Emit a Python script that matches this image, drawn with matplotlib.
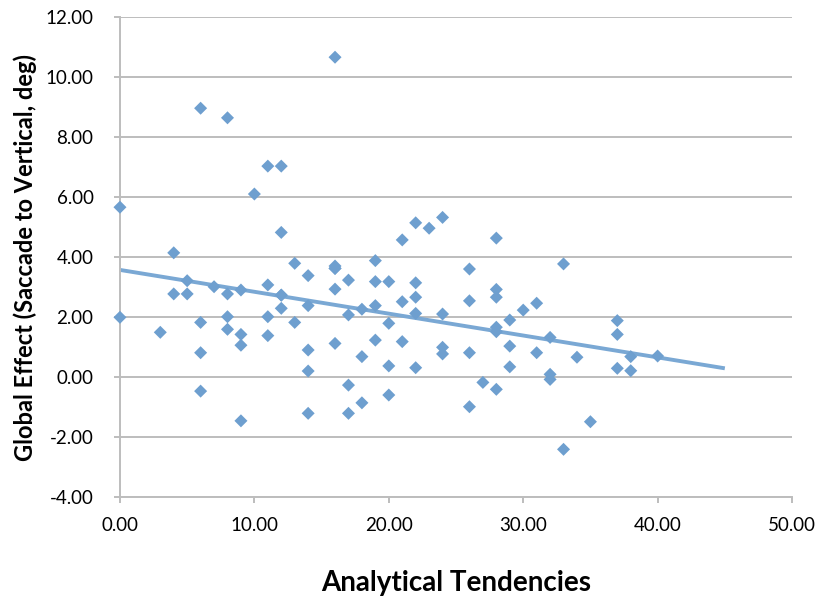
import matplotlib.pyplot as plt
import numpy as np

plt.rcParams['font.family'] = ['Lato', 'DejaVu Sans']

# analytical tendency score vs global effect, one entry per subject
analytic = [0, 0, 3, 4, 4, 5, 5, 6, 6, 6, 6, 7, 8, 8, 8, 8, 9, 9, 9, 9,
            10, 11, 11, 11, 11, 12, 12, 12, 12, 12, 13, 13, 14, 14, 14, 14, 14,
            16, 16, 16, 16, 16, 16, 17, 17, 17, 17, 18, 18, 18,
            19, 19, 19, 19, 20, 20, 20, 20, 21, 21, 21, 22, 22, 22, 22, 22,
            23, 24, 24, 24, 24, 26, 26, 26, 26, 27, 28, 28, 28, 28, 28, 28,
            29, 29, 29, 30, 31, 31, 32, 32, 32, 33, 33, 34, 35,
            37, 37, 37, 38, 38, 40]
global_eff = [5.67, 2.00, 1.50, 4.15, 2.78, 3.22, 2.78, 8.97, 1.83, 0.82, -0.46, 3.02, 8.65, 2.78, 2.02, 1.60, 2.91, 1.43, 1.07, -1.45,
              6.11, 7.04, 3.08, 2.02, 1.39, 7.04, 4.83, 2.74, 2.30, 2.74, 3.80, 1.83, 3.39, 2.39, 0.91, 0.21, -1.20,
              10.67, 3.71, 3.63, 2.94, 1.13, 3.63, 3.24, 2.08, -0.26, -1.20, 2.27, 0.69, -0.85,
              3.89, 3.19, 2.39, 1.24, 3.19, 1.80, 0.38, -0.59, 4.58, 2.52, 1.19, 5.15, 3.15, 2.67, 2.13, 0.32,
              4.97, 5.33, 2.11, 1.00, 0.78, 3.61, 2.55, 0.82, -0.98, -0.17, 4.64, 2.93, 2.67, 1.67, 1.52, -0.40,
              1.91, 1.04, 0.35, 2.24, 2.47, 0.82, 1.33, 0.10, -0.07, 3.78, -2.40, 0.67, -1.48,
              1.89, 1.43, 0.30, 0.69, 0.22, 0.71]

# linear trendline endpoints
trend_x = [0, 45]
trend_y = [3.58, 0.30]

blue = '#6e9fcf'
grey = '#bdbdbd'

fig = plt.figure(figsize=(8.2, 6.01), dpi=100)
ax = fig.add_axes([0.1463, 0.1725, 0.8196, 0.7987])

ax.plot(trend_x, trend_y, color='#7aa8d4', lw=2.8, zorder=2, solid_capstyle='butt')
ax.scatter(analytic, global_eff, marker='D', s=44, color=blue, edgecolors='none',
           zorder=3, clip_on=False)

ax.set_xlim(0, 50)
ax.set_ylim(-4, 12)
ax.set_xticks(np.arange(0, 51, 10))
ax.set_yticks(np.arange(-4, 13, 2))
ax.set_xticklabels(['%.2f' % v for v in np.arange(0, 51, 10)])
ax.set_yticklabels(['%.2f' % v for v in np.arange(-4, 13, 2)])

ax.yaxis.grid(True, color=grey, lw=1.4)
ax.set_axisbelow(True)
for side in ['top', 'right']:
    ax.spines[side].set_visible(False)
for side in ['left', 'bottom']:
    ax.spines[side].set_color(grey)
    ax.spines[side].set_linewidth(1.4)

ax.tick_params(axis='y', direction='out', length=4, width=1.4, color=grey, labelsize=13.5, pad=15)
ax.tick_params(axis='x', direction='out', length=4, width=1.4, color=grey, labelsize=13.5, pad=10)

ax.set_ylabel('Global Effect (Saccade to Vertical, deg)', fontsize=17, fontweight='bold', labelpad=6)
ax.set_xlabel('Analytical Tendencies', fontsize=20, fontweight='bold', labelpad=26)

fig.savefig('out.png', dpi=100)
